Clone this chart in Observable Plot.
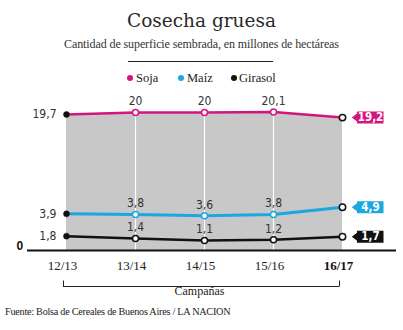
<!DOCTYPE html>
<html><head><meta charset="utf-8">
<script src="https://cdn.jsdelivr.net/npm/d3@7"></script>
<script src="https://cdn.jsdelivr.net/npm/@observablehq/plot@0.6"></script>
<style>
body{margin:0;background:#fff;width:403px;height:330px;position:relative;overflow:hidden;font-family:"Liberation Serif",serif;color:#222}
.abs{position:absolute;white-space:nowrap}
#title{left:0;width:403px;top:9px;text-align:center;font-family:"DejaVu Serif",serif;font-size:18.5px;line-height:24px;color:#2a2a2a}
#subtitle{left:0;width:403px;top:36px;text-align:center;font-size:12px;line-height:16px;color:#333;letter-spacing:-0.1px}
#rule{left:128px;width:145px;top:61px;height:1px;background:#222}
.lg{top:70px;font-size:12.5px;line-height:16px;color:#222}
.sw{position:absolute;top:75px;width:6px;height:6px;border-radius:50%}
#chart{position:absolute;left:0;top:90px}
#footer{left:5px;top:305px;font-size:10.2px;line-height:14px;color:#222;letter-spacing:-0.25px}
</style></head>
<body>
<div class="abs" id="title">Cosecha gruesa</div>
<div class="abs" id="subtitle">Cantidad de superficie sembrada, en millones de hectáreas</div>
<div class="abs" id="rule"></div>
<div id="legend"></div>
<div id="chart"></div>
<div class="abs" id="footer">Fuente: Bolsa de Cereales de Buenos Aires / LA NACION</div>
<script>
const campaigns = ["12/13", "13/14", "14/15", "15/16", "16/17"];
const soja = [19.7, 20, 20, 20.1, 19.2];
const maiz = [3.9, 3.8, 3.6, 3.8, 4.9];
const girasol = [1.8, 1.4, 1.1, 1.2, 1.7];
const seriesNames = ["Soja", "Maíz", "Girasol"];
const axisTitle = "Campañas";

const colors = ["#d4157f", "#1ba7df", "#111111"];
const widths = [2.5, 3, 2.5];
const midStroke = ["#d4157f", "#1ba7df", "#111111"];

// legend
const legend = document.getElementById("legend");
const swX = [127, 178, 231], txX = [136, 187, 239];
seriesNames.forEach((n, i) => {
  const s = document.createElement("div"); s.className = "sw"; s.style.left = swX[i] + "px"; s.style.background = colors[i]; legend.appendChild(s);
  const t = document.createElement("div"); t.className = "abs lg"; t.style.left = txX[i] + "px"; t.textContent = n; legend.appendChild(t);
});

const rows = s => campaigns.map((c, i) => ({c, v: s[i]}));
const all = [soja, maiz, girasol].map(rows);
const fmt = v => String(v).replace(".", ",");
const first = campaigns[0], last = campaigns[campaigns.length - 1];
const numFont = "'Liberation Sans Narrow','DejaVu Sans Condensed',sans-serif";
const tag = {draw(ctx) {
  ctx.moveTo(9.3, 0); ctx.lineTo(14.5, -4); ctx.lineTo(14.5, -6); ctx.lineTo(41, -6);
  ctx.lineTo(41, 6); ctx.lineTo(14.5, 6); ctx.lineTo(14.5, 4); ctx.closePath();
}};
const vtick = {draw(ctx) { ctx.moveTo(0, -3); ctx.lineTo(0, 3); }};

const marks = [
  Plot.areaY(all[0], {x: "c", y1: 0, y2: "v", fill: "#c8c8c8"}),
  Plot.ruleX(all[0].slice(1, -1), {x: "c", y1: 0, y2: "v", stroke: "#fff", strokeWidth: 1.2}),
  Plot.ruleY([0], {stroke: "#111", strokeWidth: 2}),
  Plot.text([0], {y: d => d, text: () => "0", frameAnchor: "left", dx: -11, dy: -4, fontWeight: "bold", fontSize: 12, fontFamily: "'Liberation Sans',sans-serif", fill: "#111"}),
];
all.forEach((d, k) => {
  marks.push(Plot.line(d, {x: "c", y: "v", stroke: colors[k], strokeWidth: widths[k]}));
  marks.push(Plot.dot(d.slice(0, 1), {x: "c", y: "v", r: 3, fill: "#111", stroke: "#111", strokeWidth: 0.5}));
  marks.push(Plot.dot(d.slice(1, -1), {x: "c", y: "v", r: 3, fill: "#fff", stroke: midStroke[k], strokeWidth: 1.5}));
  marks.push(Plot.dot(d.slice(-1), {x: "c", y: "v", r: 3.2, fill: "#fff", stroke: "#111", strokeWidth: 1.5}));
  marks.push(Plot.text(d.slice(0, 1), {x: "c", y: "v", text: r => fmt(r.v), textAnchor: "end", dx: -10, fontSize: 12, fontFamily: numFont, fill: "#333"}));
  marks.push(Plot.text(d.slice(1, -1), {x: "c", y: "v", text: r => fmt(r.v), dy: -11, fontSize: 12, fontFamily: numFont, fill: "#333"}));
  marks.push(Plot.dot(d.slice(-1), {x: "c", y: "v", symbol: tag, r: 5, fill: colors[k], stroke: "none"}));
  marks.push(Plot.text(d.slice(-1), {x: "c", y: "v", text: r => fmt(r.v), dx: 28, fontSize: 11.5, fontWeight: "bold", fontFamily: numFont, fill: "#fff"}));
});
marks.push(
  Plot.text(campaigns.slice(0, -1), {x: d => d, frameAnchor: "bottom", dy: 19, dx: -4, fontSize: 13, fontFamily: "'Liberation Serif',serif", fill: "#222"}),
  Plot.text(campaigns.slice(-1), {x: d => d, frameAnchor: "bottom", dy: 19, dx: -4, fontSize: 13, fontWeight: "bold", fontFamily: "'Liberation Serif',serif", fill: "#111"}),
  Plot.ruleY([0], {x1: () => first, x2: () => last, dy: 36, dx: -3, stroke: "#222", strokeWidth: 1}),
  Plot.dot([first, last], {x: d => d, y: () => 0, dy: 33, dx: -3, symbol: vtick, r: 3, fill: "none", stroke: "#222", strokeWidth: 1}),
  Plot.text([axisTitle], {x: () => campaigns[2], frameAnchor: "bottom", dy: 44, dx: -5, fontSize: 12, fontFamily: "'Liberation Serif',serif", fill: "#222"})
);

const chart = Plot.plot({
  width: 403, height: 240,
  marginLeft: 27, marginRight: 7, marginTop: 0, marginBottom: 80,
  x: {type: "point", domain: campaigns, range: [66, 342.7], padding: 0, axis: null},
  y: {type: "linear", domain: [0, 1, 2, 3.5, 5, 21], range: [160, 150.6, 144.4, 126, 116.1, 15.8], axis: null},
  style: {background: "transparent", overflow: "visible"},
  marks
});
document.getElementById("chart").appendChild(chart);
</script>
</body></html>
